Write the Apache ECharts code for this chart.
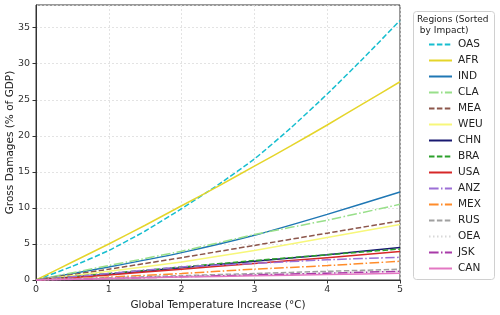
<!DOCTYPE html>
<html><head><meta charset="utf-8">
<script src="https://cdn.jsdelivr.net/npm/echarts@6/dist/echarts.min.js"></script>
<style>html,body{margin:0;padding:0;background:#fff}#c{width:500px;height:315px}</style>
</head><body><div id="c"></div>
<script>
// x grids
var xFine = [0, 0.5, 1, 1.5, 2, 2.5, 3, 3.5, 4, 4.5, 5];
var xCoarse = [0, 1, 2, 3, 4, 5];
// series values (Gross damages, % of GDP)
var OAS = [0, 1.9, 4.1, 6.8, 9.9, 13.2, 16.8, 21.1, 25.8, 30.8, 36.0];
var AFR = [0, 2.5, 5.0, 7.6, 10.3, 13.0, 15.8, 18.6, 21.5, 24.5, 27.5];
var IND = [0, 1.8, 3.8, 6.2, 9.1, 12.2];
var CLA = [0, 2.0, 4.0, 6.3, 8.3, 10.5];
var MEA = [0, 1.5, 3.1, 4.8, 6.5, 8.2];
var WEU = [0, 1.2, 2.5, 4.1, 5.9, 7.7];
var CHN = [0, 0.8, 1.7, 2.6, 3.5, 4.5];
var BRA = [0, 0.9, 1.8, 2.7, 3.5, 4.3];
var USA = [0, 0.7, 1.5, 2.3, 3.1, 3.95];
var ANZ = [0, 0.9, 1.8, 2.3, 2.8, 3.15];
var MEX = [0, 0.4, 0.9, 1.5, 2.0, 2.6];
var RUS = [0, 0.3, 0.6, 0.9, 1.2, 1.5];
var OEA = [0, 0.25, 0.5, 0.75, 1.0, 1.25];
var JSK = [0, 0.2, 0.45, 0.7, 0.95, 1.2];
var CAN = [0, 0.2, 0.4, 0.6, 0.75, 0.93];
var yTicks = [0, 5, 10, 15, 20, 25, 30, 35];
var xTicks = [0, 1, 2, 3, 4, 5];

var dashed = [5.5, 2.4], dashdot = [9.6, 2.4, 1.5, 2.4], dotted = [1.5, 2.5];
var defs = [
  ['OAS', OAS, xFine, '#17becf', dashed],
  ['AFR', AFR, xFine, '#e5d52a', 'solid'],
  ['IND', IND, xCoarse, '#1f77b4', 'solid'],
  ['CLA', CLA, xCoarse, '#98df8a', dashdot],
  ['MEA', MEA, xCoarse, '#8c564b', dashed],
  ['WEU', WEU, xCoarse, '#f7f77a', 'solid'],
  ['CHN', CHN, xCoarse, '#191970', 'solid'],
  ['BRA', BRA, xCoarse, '#2ca02c', dashed],
  ['USA', USA, xCoarse, '#d62728', 'solid'],
  ['ANZ', ANZ, xCoarse, '#9c6fd6', dashdot],
  ['MEX', MEX, xCoarse, '#ff8c2a', dashdot],
  ['RUS', RUS, xCoarse, '#a0a0a0', dashed],
  ['OEA', OEA, xCoarse, '#d8d8d8', dotted],
  ['JSK', JSK, xCoarse, '#a83aa8', dashdot],
  ['CAN', CAN, xCoarse, '#e377c2', 'solid']
];
var series = defs.map(function (d) {
  return {
    name: d[0], type: 'line', symbol: 'none', showSymbol: false, smooth: 0.2,
    data: d[2].map(function (x, i) { return [x, d[1][i]]; }),
    lineStyle: { color: d[3], width: 1.5, type: d[4] },
    itemStyle: { color: d[3] }
  };
});
var font = 'DejaVu Sans';
var chart = echarts.init(document.getElementById('c'), null, { renderer: 'canvas' });
chart.setOption({
  animation: false,
  grid: { left: 36, right: 100, top: 5, bottom: 35, containLabel: false, outerBoundsMode: 'none',
    show: true, borderColor: '#333', borderWidth: 1, backgroundColor: 'transparent' },
  xAxis: {
    type: 'value', min: xTicks[0], max: xTicks[xTicks.length - 1], interval: 1,
    name: 'Global Temperature Increase (°C)', nameLocation: 'middle', nameGap: 19,
    nameTextStyle: { fontFamily: font, fontSize: 10.5, color: '#222' },
    axisLine: { lineStyle: { color: '#333' } },
    axisTick: { show: true, length: 3.5, lineStyle: { color: '#333' } },
    axisLabel: { fontFamily: font, fontSize: 9.5, color: '#333', margin: 5 },
    splitLine: { show: true, lineStyle: { color: '#dcdcdc', type: [2, 2], width: 0.8 } }
  },
  yAxis: {
    type: 'value', min: yTicks[0], max: 38.15, interval: 5,
    name: 'Gross Damages (% of GDP)', nameLocation: 'middle', nameGap: 20, nameMoveOverlap: false,
    nameTextStyle: { fontFamily: font, fontSize: 10.5, color: '#222' },
    axisLine: { show: true, lineStyle: { color: '#333' } },
    axisTick: { show: true, length: 3.5, lineStyle: { color: '#333' } },
    axisLabel: { fontFamily: font, fontSize: 9.5, color: '#333', margin: 6, showMaxLabel: false,
      formatter: function (v) { return yTicks.indexOf(v) >= 0 ? String(v) : ''; } },
    splitLine: { show: true, lineStyle: { color: '#dcdcdc', type: [2, 2], width: 0.8 } }
  },
  legend: {
    orient: 'vertical', left: 423, top: 34, itemWidth: 23, itemHeight: 10, itemGap: 5,
    itemStyle: { opacity: 0 },
    textStyle: { fontFamily: font, fontSize: 10.5, lineHeight: 10, color: '#222', padding: [0, 0, 0, 1] },
    data: defs.map(function (d) { return d[0]; })
  },
  graphic: [
    { type: 'rect', shape: { x: 413.5, y: 11.5, width: 81, height: 268, r: 3 }, style: { fill: 'rgba(255,255,255,0.8)', stroke: '#d0d0d0', lineWidth: 1 }, z: -1 },
    { type: 'text', left: 417, top: 14, style: { text: 'Regions (Sorted\n by Impact)', font: '9px "DejaVu Sans"', fill: '#222', lineHeight: 11 } }
  ],
  series: series
});
</script></body></html>
